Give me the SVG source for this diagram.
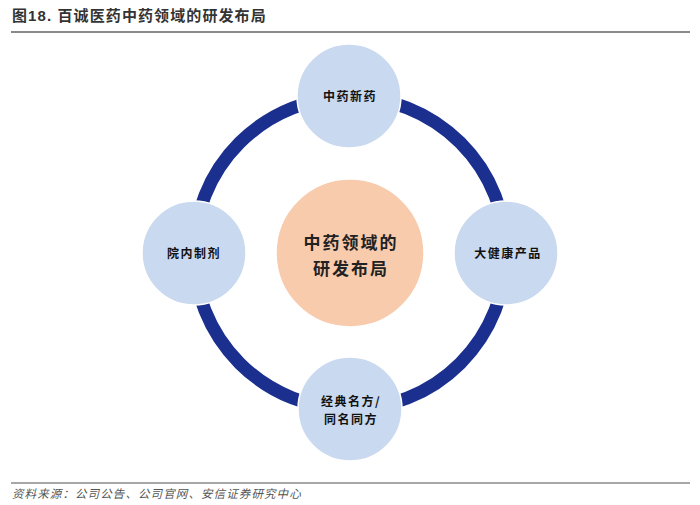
<svg xmlns="http://www.w3.org/2000/svg" width="700" height="505" viewBox="0 0 700 505">
<style>
.title{font-family:"Liberation Sans","Noto Sans CJK SC",sans-serif;font-size:15px;font-weight:bold;fill:#333;letter-spacing:1.1px}
.node{fill:#c9d9ef;stroke:#ffffff;stroke-width:1.5}
.nt{font-family:"Noto Sans CJK SC",sans-serif;font-size:12px;font-weight:bold;fill:#111;text-anchor:middle;letter-spacing:1.5px}
.ct{font-family:"Noto Sans CJK SC",sans-serif;font-size:17px;font-weight:bold;fill:#222;text-anchor:middle;letter-spacing:2px}
.src{font-family:"Noto Sans CJK SC",sans-serif;font-size:11.5px;font-style:italic;fill:#555;letter-spacing:1.1px}
</style>
<rect width="700" height="505" fill="#ffffff"/>
<text class="title" x="12" y="21">图18. 百诚医药中药领域的研发布局</text>
<line x1="11" y1="32" x2="690" y2="32" stroke="#8a8a8a" stroke-width="2"/>
<g id="connectors">
<circle cx="350" cy="253" r="156" fill="none" stroke="#1b2f8e" stroke-width="13"/>
</g>
<g id="center">
<circle cx="350" cy="253" r="74" fill="#f8cbad" stroke="#ffffff" stroke-width="1.5"/>
<text class="ct" x="351" y="249">中药领域的</text>
<text class="ct" x="351" y="275">研发布局</text>
</g>
<g id="top">
<circle class="node" cx="349" cy="96" r="52"/>
<text class="nt" x="350" y="101">中药新药</text>
</g>
<g id="left">
<circle class="node" cx="194" cy="253" r="52"/>
<text class="nt" x="194" y="258">院内制剂</text>
</g>
<g id="right">
<circle class="node" cx="506" cy="253" r="52"/>
<text class="nt" x="508" y="258">大健康产品</text>
</g>
<g id="bottom">
<circle class="node" cx="350" cy="409" r="52"/>
<text class="nt" x="351" y="406">经典名方/</text>
<text class="nt" x="351" y="424">同名同方</text>
</g>
<line x1="11" y1="483" x2="690" y2="483" stroke="#8a8a8a" stroke-width="1.5"/>
<text class="src" x="12" y="498">资料来源：公司公告、公司官网、安信证券研究中心</text>
</svg>
